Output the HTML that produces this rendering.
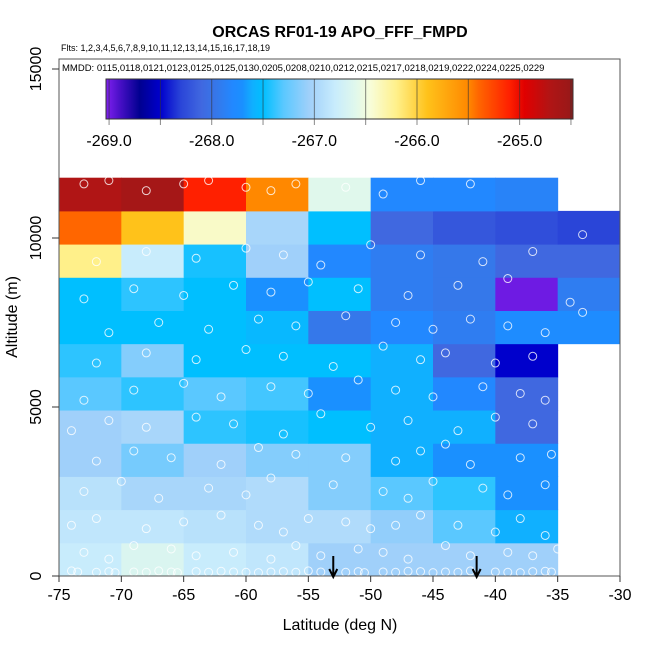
<!DOCTYPE html>
<html><head><meta charset="utf-8"><style>
body{margin:0;background:#fff}
svg text{font-family:"Liberation Sans",sans-serif}
</style></head><body>
<svg id="c" width="650" height="650" xmlns="http://www.w3.org/2000/svg">
<text x="340" y="37" text-anchor="middle" font-size="16" font-weight="bold">ORCAS RF01-19 APO_FFF_FMPD</text>
<text x="61" y="51" font-size="9">Flts: 1,2,3,4,5,6,7,8,9,10,11,12,13,14,15,16,17,18,19</text>
<g id="cells"></g>
<g id="pts"></g>
<text x="62" y="71" font-size="9.5">MMDD: 0115,0118,0121,0123,0125,0125,0130,0205,0208,0210,0212,0215,0217,0218,0219,0222,0224,0225,0229</text>
<defs><linearGradient id="cb" x1="0" x2="1" y1="0" y2="0"></linearGradient></defs>
<g id="cbt"></g>
<rect x="106" y="79" width="467" height="40" fill="url(#cb)" stroke="#333"/>
<g id="cbl"></g>
<rect x="59" y="59" width="561" height="517" fill="none" stroke="#555"/>
<g id="axes"></g>
<text x="340" y="630" text-anchor="middle" font-size="16">Latitude (deg N)</text>
<text transform="translate(17,317) rotate(-90)" text-anchor="middle" font-size="16">Altitude (m)</text>
</svg>
<script>
const lats=[-75,-70,-65,-60,-55,-50,-45,-40,-35];
const alts=[0,982,1964,2946,3928,4910,5892,6874,7856,8838,9820,10802];
const binH=982;
// values [row][col], row 0 = lowest
const vals=[
[-266.8,-266.65,-266.8,-266.85,-267.05,-267.05,-267.05,-267.05,null],
[-266.85,-266.85,-266.9,-266.95,-266.95,-267.1,-267.3,-267.6,null],
[-266.9,-267.0,-267.0,-266.95,-267.15,-267.3,-267.4,-267.7,null],
[-267.05,-267.2,-267.05,-267.15,-267.15,-267.6,-267.7,-267.7,null],
[-267.05,-267.0,-267.4,-267.45,-267.5,-267.6,-267.6,-268.1,null],
[-267.3,-267.4,-267.3,-267.35,-267.7,-267.6,-267.8,-268.1,null],
[-267.4,-267.15,-267.5,-267.5,-267.5,-267.6,-268.1,-268.5,null],
[-267.5,-267.5,-267.5,-267.55,-267.95,-267.8,-267.9,-267.75,-267.75],
[-267.5,-267.4,-267.5,-267.7,-267.5,-267.9,-267.95,-269.0,-267.9],
[-266.2,-266.8,-267.45,-267.05,-267.8,-267.9,-267.95,-268.1,-268.1],
[-265.4,-265.9,-266.4,-267.0,-267.5,-268.1,-268.2,-268.25,-268.3],
[-264.7,-264.6,-265.1,-265.5,-266.6,-267.8,-267.8,-267.85,null]];
const xTicks=[-75,-70,-65,-60,-55,-50,-45,-40,-35,-30];
const yTicks=[0,5000,10000,15000];
const cbTicks=[-269.0,-268.0,-267.0,-266.0,-265.0];
const arrowLats=[-53,-41.5];
const ptLat=[-74,-73.5,-72,-71,-70.5,-69,-68,-67,-66,-65.5,-64,-63,-62,-61,-60,-59,-58,-57,-56,-55,-54,-52,-51,-50.5,-49,-48,-47,-46,-45,-44,-43,-42,-40,-39,-38,-37,-36,-35.5,
-73,-71,-69,-66,-64,-61,-58,-56,-54,-51,-49,-47,-44,-42,-39,-37,-35,
-74,-72,-68,-65,-62,-59,-57,-55,-52,-50,-48,-46,-43,-40,-38,-36,
-73,-70,-67,-63,-60,-58,-53,-49,-47,-45,-41,-39,-36,
-72,-69,-66,-62,-59,-56,-52,-48,-46,-44,-42,-38,-35.5,
-74,-71,-68,-64,-61,-57,-54,-50,-47,-43,-40,-37,
-73,-69,-65,-62,-58,-55,-51,-48,-45,-41,-38,-36,
-72,-68,-64,-60,-57,-53,-49,-46,-44,-40,-37,-34,
-71,-67,-63,-59,-56,-52,-48,-45,-42,-39,-36,-33,
-73,-69,-65,-61,-58,-55,-51,-47,-43,-39,-34,
-72,-68,-64,-60,-57,-54,-50,-46,-41,-37,-33,
-73,-71,-68,-65,-63,-60,-58,-56,-52,-49,-46,-42];
const ptAlt=[150,120,110,130,100,120,110,150,120,100,130,110,140,120,110,100,120,130,110,150,120,110,130,100,120,110,140,130,100,120,110,150,120,110,100,130,140,120,
700,500,900,800,600,700,500,900,600,800,700,500,900,600,700,600,800,
1500,1700,1400,1600,1800,1500,1300,1700,1600,1400,1500,1800,1500,1300,1700,1200,
2500,2800,2300,2600,2400,2900,2700,2500,2300,2800,2600,2400,2700,
3400,3700,3500,3300,3800,3600,3500,3400,3700,3900,3300,3500,3600,
4300,4600,4400,4700,4500,4200,4800,4400,4600,4300,4700,4500,
5200,5500,5700,5300,5600,5400,5800,5500,5300,5600,5400,5200,
6300,6600,6400,6700,6500,6200,6800,6400,6600,6300,6500,6700,
7200,7500,7300,7600,7400,7700,7500,7300,7600,7400,7200,7800,
8200,8500,8300,8600,8400,8700,8500,8300,8600,8800,8100,
9300,9600,9400,9700,9500,9200,9800,9500,9300,9600,10100,
11600,11700,11400,11600,11700,11500,11400,11600,11500,11300,11700,11600];
const NS='http://www.w3.org/2000/svg';
const X=l=>59+(l+75)*561/45;
const Y=a=>576-a*0.0338;
const stops=[[-269.05,[128,32,240]],[-268.9,[75,16,200]],[-268.7,[0,0,144]],[-268.5,[0,0,204]],[-268.3,[42,69,216]],[-268.1,[64,104,224]],[-267.95,[53,120,234]],[-267.8,[34,136,255]],[-267.7,[26,144,255]],[-267.6,[16,176,255]],[-267.5,[0,191,255]],[-267.3,[90,200,255]],[-267.05,[160,208,250]],[-266.8,[200,236,252]],[-266.6,[224,248,236]],[-266.45,[248,253,216]],[-266.2,[255,240,138]],[-265.9,[255,194,26]],[-265.5,[255,136,0]],[-265.4,[255,102,0]],[-265.1,[255,32,0]],[-264.95,[224,0,0]],[-264.7,[176,21,21]],[-264.47,[150,25,25]]];
function col(v){
 if(v<=stops[0][0])return 'rgb('+stops[0][1]+')';
 for(let i=1;i<stops.length;i++){if(v<=stops[i][0]){const [a,ca]=stops[i-1],[b,cb]=stops[i];const t=(v-a)/(b-a);return 'rgb('+ca.map((c,k)=>Math.round(c+(cb[k]-c)*t)).join(',')+')';}}
 return 'rgb('+stops[stops.length-1][1]+')';
}
function mk(tag,at,parent){const e=document.createElementNS(NS,tag);for(const k in at)e.setAttribute(k,at[k]);parent.appendChild(e);return e;}
const cells=document.getElementById('cells');
vals.forEach((row,r)=>row.forEach((v,c)=>{if(v===null)return;
 const e=mk('rect',{x:X(lats[c]),y:Y(alts[r]+binH),width:X(lats[c]+5)-X(lats[c])+0.5,height:Y(alts[r])-Y(alts[r]+binH)+0.5,fill:col(v)},cells);
 
 
}));
const pts=document.getElementById('pts');
ptLat.forEach((l,i)=>{const e=mk('circle',{cx:X(l),cy:Y(ptAlt[i]),r:4,fill:'none',stroke:'#fff','stroke-opacity':0.8,'stroke-width':1},pts);
 
 
});
const CB0=-269.03,CB1=-264.48;
const g=document.getElementById('cb');
stops.forEach(s=>{mk('stop',{offset:Math.max(0,Math.min(1,(s[0]-CB0)/(CB1-CB0))),'stop-color':col(s[0])},g);});
const cbt=document.getElementById('cbt'),cbl=document.getElementById('cbl');
const CBX=v=>106+(v-CB0)*467/(CB1-CB0);
for(let v=-269;v<=-264.5;v+=0.5){mk('line',{x1:CBX(v),x2:CBX(v),y1:79,y2:125,stroke:'#888'},cbt);
 mk('line',{x1:CBX(v),x2:CBX(v),y1:79,y2:119,stroke:'#333','stroke-opacity':0.6},cbl);}
cbTicks.forEach(v=>{const t=mk('text',{x:CBX(v),y:146,'text-anchor':'middle','font-size':16},cbt);t.textContent=v.toFixed(1);
 
 
});
const ax=document.getElementById('axes');
xTicks.forEach(v=>{mk('line',{x1:X(v),x2:X(v),y1:576,y2:582,stroke:'#333'},ax);
 const t=mk('text',{x:X(v),y:600,'text-anchor':'middle','font-size':16},ax);t.textContent=v;
 
 
});
yTicks.forEach(v=>{mk('line',{x1:52,x2:59,y1:Y(v),y2:Y(v),stroke:'#333'},ax);
 const t=mk('text',{transform:`translate(41,${Y(v)}) rotate(-90)`,'text-anchor':'middle','font-size':16},ax);t.textContent=v;
 
 
});
arrowLats.forEach(l=>{const x=X(l);
 const a=mk('path',{d:`M${x},556 L${x},577 M${x-4},569 L${x},577 L${x+4},569`,stroke:'#000','stroke-width':2,fill:'none'},ax);
 
 
});
</script>
</body></html>
